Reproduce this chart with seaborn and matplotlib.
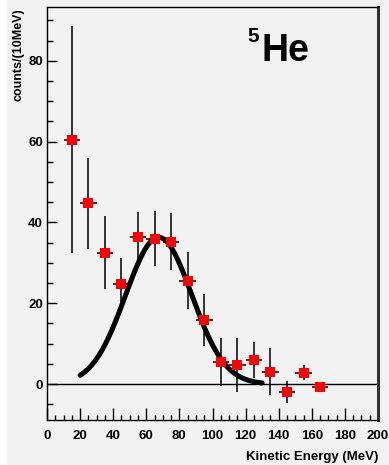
import numpy as np
import pandas as pd
import matplotlib
matplotlib.use("Agg")
import matplotlib.pyplot as plt
from matplotlib.ticker import MultipleLocator
from matplotlib.patches import Rectangle
import seaborn as sns

# Measured spectrum (10 MeV bins)
energy = [15, 25, 35, 45, 55, 65, 75, 85, 95, 105, 115, 125, 135, 145, 155, 165]
counts = [60.5, 44.7, 32.5, 24.8, 36.3, 36.0, 35.2, 25.6, 15.8, 5.4, 4.7, 5.9, 3.0, -1.9, 2.8, -0.7]
count_err = [28.0, 11.3, 9.0, 6.5, 6.3, 6.7, 7.0, 7.0, 6.5, 6.0, 6.7, 4.5, 5.8, 2.7, 1.9, 1.0]
bin_half_width = 5.0

# Gaussian fit to the peak
fit_amplitude = 36.3
fit_mean = 67.5
fit_sigma = 20.0
fit_range = (20, 130)

bg = "#f2f2f2"
sns.set_theme(style="white")
plt.rcParams["font.family"] = ["Liberation Sans", "DejaVu Sans"]
plt.rcParams["font.weight"] = "bold"
plt.rcParams["text.color"] = "black"
plt.rcParams["xtick.color"] = "black"
plt.rcParams["ytick.color"] = "black"

fig = plt.figure(figsize=(3.89, 4.65), dpi=100, facecolor=bg)
fig.patches.append(Rectangle((0, 0), 7 / 389, 1, transform=fig.transFigure,
                             facecolor="white", edgecolor="none", zorder=-1))
ax = fig.add_axes([47 / 389, 1 - 420 / 465, 331 / 389, 413 / 465])
ax.set_facecolor(bg)

df = pd.DataFrame({"energy": energy, "counts": counts, "err": count_err})

# zero baseline
ax.axhline(0, color="black", lw=1.0, zorder=1)

# error bars
ax.errorbar(df["energy"], df["counts"], yerr=df["err"], xerr=bin_half_width,
            fmt="none", ecolor="black", elinewidth=1.1, capsize=0, zorder=2)

# fitted curve
xf = np.linspace(fit_range[0], fit_range[1], 300)
yf = fit_amplitude * np.exp(-(xf - fit_mean) ** 2 / (2 * fit_sigma ** 2))
sns.lineplot(x=xf, y=yf, ax=ax, color="black", lw=3.6, zorder=3)

# data points
sns.scatterplot(data=df, x="energy", y="counts", ax=ax, marker="s", s=52,
                color="red", edgecolor="none", linewidth=0, zorder=4)

ax.set_xlim(0, 200)
ax.set_ylim(-8.9, 93.3)
ax.xaxis.set_major_locator(MultipleLocator(20))
ax.xaxis.set_minor_locator(MultipleLocator(5))
ax.yaxis.set_major_locator(MultipleLocator(20))
ax.yaxis.set_minor_locator(MultipleLocator(5))
ax.tick_params(axis="x", which="major", direction="in", length=8.5, width=1.0,
               pad=7, labelsize=9.5, colors="black", bottom=True)
ax.tick_params(axis="x", which="minor", direction="in", length=3.8, width=1.0, bottom=True)
ax.tick_params(axis="y", which="major", direction="in", length=7.5, width=1.0,
               pad=3, labelsize=9.5, colors="black", left=True)
ax.tick_params(axis="y", which="minor", direction="in", length=4.3, width=1.0, left=True)
for lbl in ax.get_xticklabels() + ax.get_yticklabels():
    lbl.set_fontweight("bold")
    lbl.set_color("black")

for side in ["left", "bottom", "top"]:
    ax.spines[side].set_color("black")
    ax.spines[side].set_linewidth(1.0)
ax.spines["right"].set_color("#333333")
ax.spines["right"].set_linewidth(2.2)

ax.set_xlabel("")
ax.set_ylabel("")
fig.text(378 / 389, 1 - 460 / 465, "Kinetic Energy (MeV)", ha="right", va="baseline",
         fontsize=9.5, fontweight="bold", color="black")
fig.text(19 / 389, 1 - 8 / 465, "counts/(10MeV)", rotation=90, ha="center", va="top",
         fontsize=9.0, fontweight="bold", color="black")

fig.text(262 / 389, 1 - 61 / 465, "He", ha="left", va="baseline",
         fontsize=27, fontweight="bold", color="black")
fig.text(247 / 389, 1 - 27 / 465, "5", ha="left", va="top",
         fontsize=15, fontweight="bold", color="black")

fig.savefig("out.png", dpi=100, facecolor=bg)
